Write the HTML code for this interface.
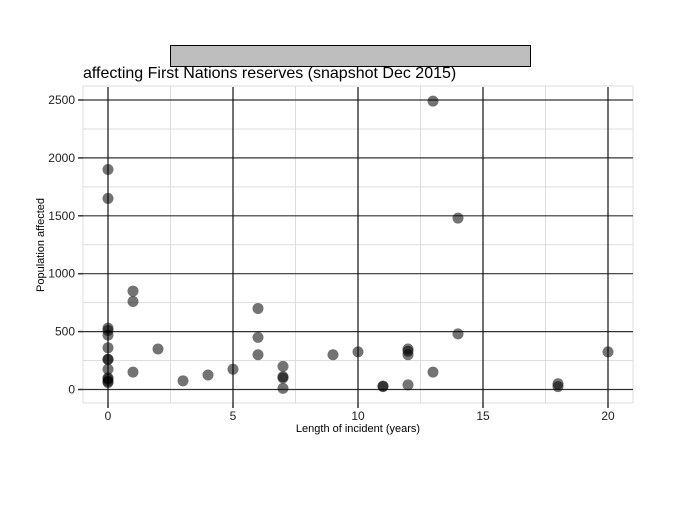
<!DOCTYPE html>
<html><head><meta charset="utf-8"><style>
body{margin:0;background:#fff;font-family:"Liberation Sans",sans-serif;}
</style></head><body>
<svg id="chart" width="700" height="500" xmlns="http://www.w3.org/2000/svg" font-family="Liberation Sans, sans-serif">
<rect x="0" y="0" width="700" height="500" fill="#fff"/>
<rect x="170.5" y="45.5" width="360" height="21" fill="#bebebe" stroke="#000" stroke-width="1"/>
<text x="83" y="78" font-size="16" fill="#000">affecting First Nations reserves (snapshot Dec 2015)</text>
<g id="grid"></g>
<g id="points"></g>
<text x="358" y="432" font-size="11" text-anchor="middle">Length of incident (years)</text>
<text transform="translate(44,245) rotate(-90)" font-size="11" text-anchor="middle">Population affected</text>
</svg>
<script>
const xs=[0,0,0,0,0,0,0,0,0,0,0,0,0,1,1,1,2,3,4,5,6,6,6,7,7,7,7,9,10,11,11,12,12,12,12,13,13,14,14,18,18,20];
const ys=[1900,1650,530,510,470,360,260,260,175,100,90,70,60,850,760,150,350,75,125,175,700,450,300,200,110,100,10,300,325,30,25,350,330,300,40,2490,150,1480,480,50,25,325];
const xTicks=[0,5,10,15,20];
const yTicks=[0,500,1000,1500,2000,2500];
const NS="http://www.w3.org/2000/svg";
const X=v=>108+v*25, Y=v=>389.5-v*0.1158;
const L=83,R=633,T=86,B=403;
const g=document.getElementById('grid'), p=document.getElementById('points');
function mk(tag,at,par){const e=document.createElementNS(NS,tag);for(const k in at)e.setAttribute(k,at[k]);par.appendChild(e);return e;}
for(let v=-250;v<=2750;v+=500){const y=Y(v);if(y<T||y>B)continue;const e=mk('line',{x1:L,x2:R,y1:y,y2:y,stroke:'#ddd','stroke-width':1},g);

}
for(let v=-2.5;v<=22.5;v+=5){const x=X(v);if(x<L||x>R)continue;const e=mk('line',{x1:x,x2:x,y1:T,y2:B,stroke:'#ddd','stroke-width':1},g);

}
mk('line',{x1:L,x2:L,y1:T,y2:B,stroke:'#ddd'},g);
mk('line',{x1:L,x2:R,y1:T,y2:T,stroke:'#ddd'},g);
mk('line',{x1:L,x2:R,y1:B,y2:B,stroke:'#ddd'},g);
mk('line',{x1:R,x2:R,y1:T,y2:B,stroke:'#ddd'},g);
yTicks.forEach(v=>{const y=Y(v);
const e=mk('line',{x1:L,x2:R,y1:y,y2:y,stroke:'#333','stroke-width':1.2},g);


mk('line',{x1:L-5,x2:L,y1:y,y2:y,stroke:'#333','stroke-width':1.5},g);
const t=mk('text',{x:L-8,y:y+4,'font-size':12,'text-anchor':'end',fill:'#222'},g);t.textContent=v;

});
xTicks.forEach(v=>{const x=X(v);
const e=mk('line',{x1:x,x2:x,y1:T+1,y2:B,stroke:'#111','stroke-width':1.2},g);


mk('line',{x1:x,x2:x,y1:B,y2:B+5,stroke:'#333','stroke-width':1.5},g);
const t=mk('text',{x:x,y:B+17,'font-size':12,'text-anchor':'middle',fill:'#222'},g);t.textContent=v;

});
xs.forEach((v,i)=>{const c=mk('circle',{cx:X(v),cy:Y(ys[i]),r:5.5,fill:'#000','fill-opacity':0.55},p);

});
</script>
</body></html>
